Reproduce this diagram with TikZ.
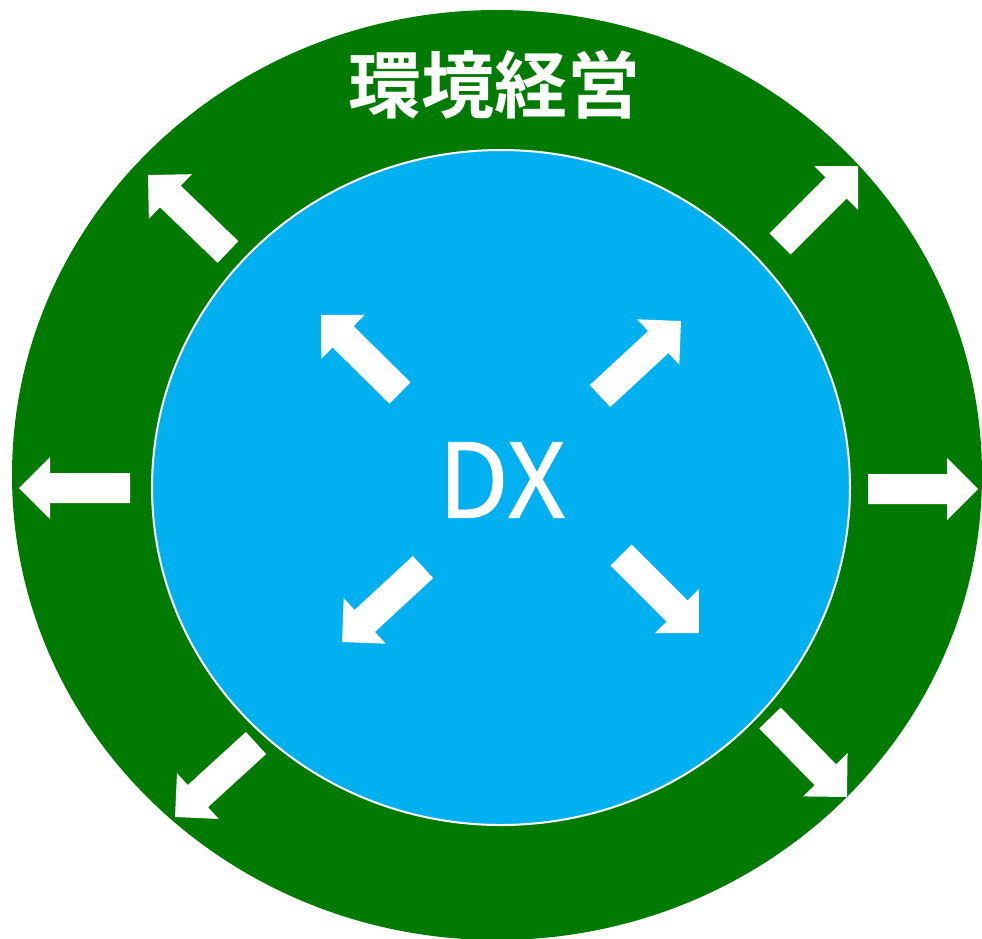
\documentclass[tikz,border=0pt]{standalone}
\usepackage{fontspec}
\newfontfamily\cjk[FakeBold=0.8]{Noto Sans CJK JP}
\newfontfamily\cjkbold{Noto Sans CJK JP Bold}
\usetikzlibrary{calc}
\definecolor{ringgreen}{HTML}{007A00}
\definecolor{dxblue}{HTML}{00B0F0}
\tikzset{
  ring/.style={fill=ringgreen},
  core/.style={fill=dxblue, draw=white, line width=2pt},
  title/.style={text=white, font=\cjkbold\fontsize{73}{80}\selectfont, inner sep=0pt},
  dxlabel/.style={text=white, font=\cjk\fontsize{103}{110}\selectfont, inner sep=0pt},
  blockarrowfill/.style={fill=white}
}
\newcommand\blockarrow[2]{%
  \fill[blockarrowfill] let \p1=($(#2)-(#1)$), \n1={atan2(\y1,\x1)}, \n2={veclen(\x1,\y1)} in
    [shift={(#1)}, rotate=\n1]
    (0,15) -- ({\n2-31},15) -- ({\n2-31},31) -- (\n2,0) -- ({\n2-31},-31) -- ({\n2-31},-15) -- (0,-15) -- cycle;}
\begin{document}
\begin{tikzpicture}[x=1pt,y=-1pt]
\useasboundingbox (0,0) rectangle (982,938);
\fill[ring] (497,475) ellipse [x radius=485, y radius=465];
\filldraw[core] (501,487.5) ellipse [x radius=349, y radius=337.5];
\node[title] (t) at (494.5,85) {環境経営};
\node[dxlabel] (dx) at (502,480) {DX};
% outer arrows
\coordinate (oULs) at (228,252); \coordinate (oULe) at (148,175);
\coordinate (oURs) at (780,244); \coordinate (oURe) at (858,166);
\coordinate (oLs) at (130,488);  \coordinate (oLe) at (19,488);
\coordinate (oRs) at (868,489);  \coordinate (oRe) at (978,489);
\coordinate (oLLs) at (256,743); \coordinate (oLLe) at (175,817);
\coordinate (oLRs) at (770,718); \coordinate (oLRe) at (847,797);
% inner arrows
\coordinate (iULs) at (400,393); \coordinate (iULe) at (321,315);
\coordinate (iURs) at (600,396); \coordinate (iURe) at (681,321);
\coordinate (iLLs) at (423,567); \coordinate (iLLe) at (342,642);
\coordinate (iLRs) at (621,555); \coordinate (iLRe) at (699,633);
\blockarrow{oULs}{oULe}
\blockarrow{oURs}{oURe}
\blockarrow{oLs}{oLe}
\blockarrow{oRs}{oRe}
\blockarrow{oLLs}{oLLe}
\blockarrow{oLRs}{oLRe}
\blockarrow{iULs}{iULe}
\blockarrow{iURs}{iURe}
\blockarrow{iLLs}{iLLe}
\blockarrow{iLRs}{iLRe}
\end{tikzpicture}
\end{document}
